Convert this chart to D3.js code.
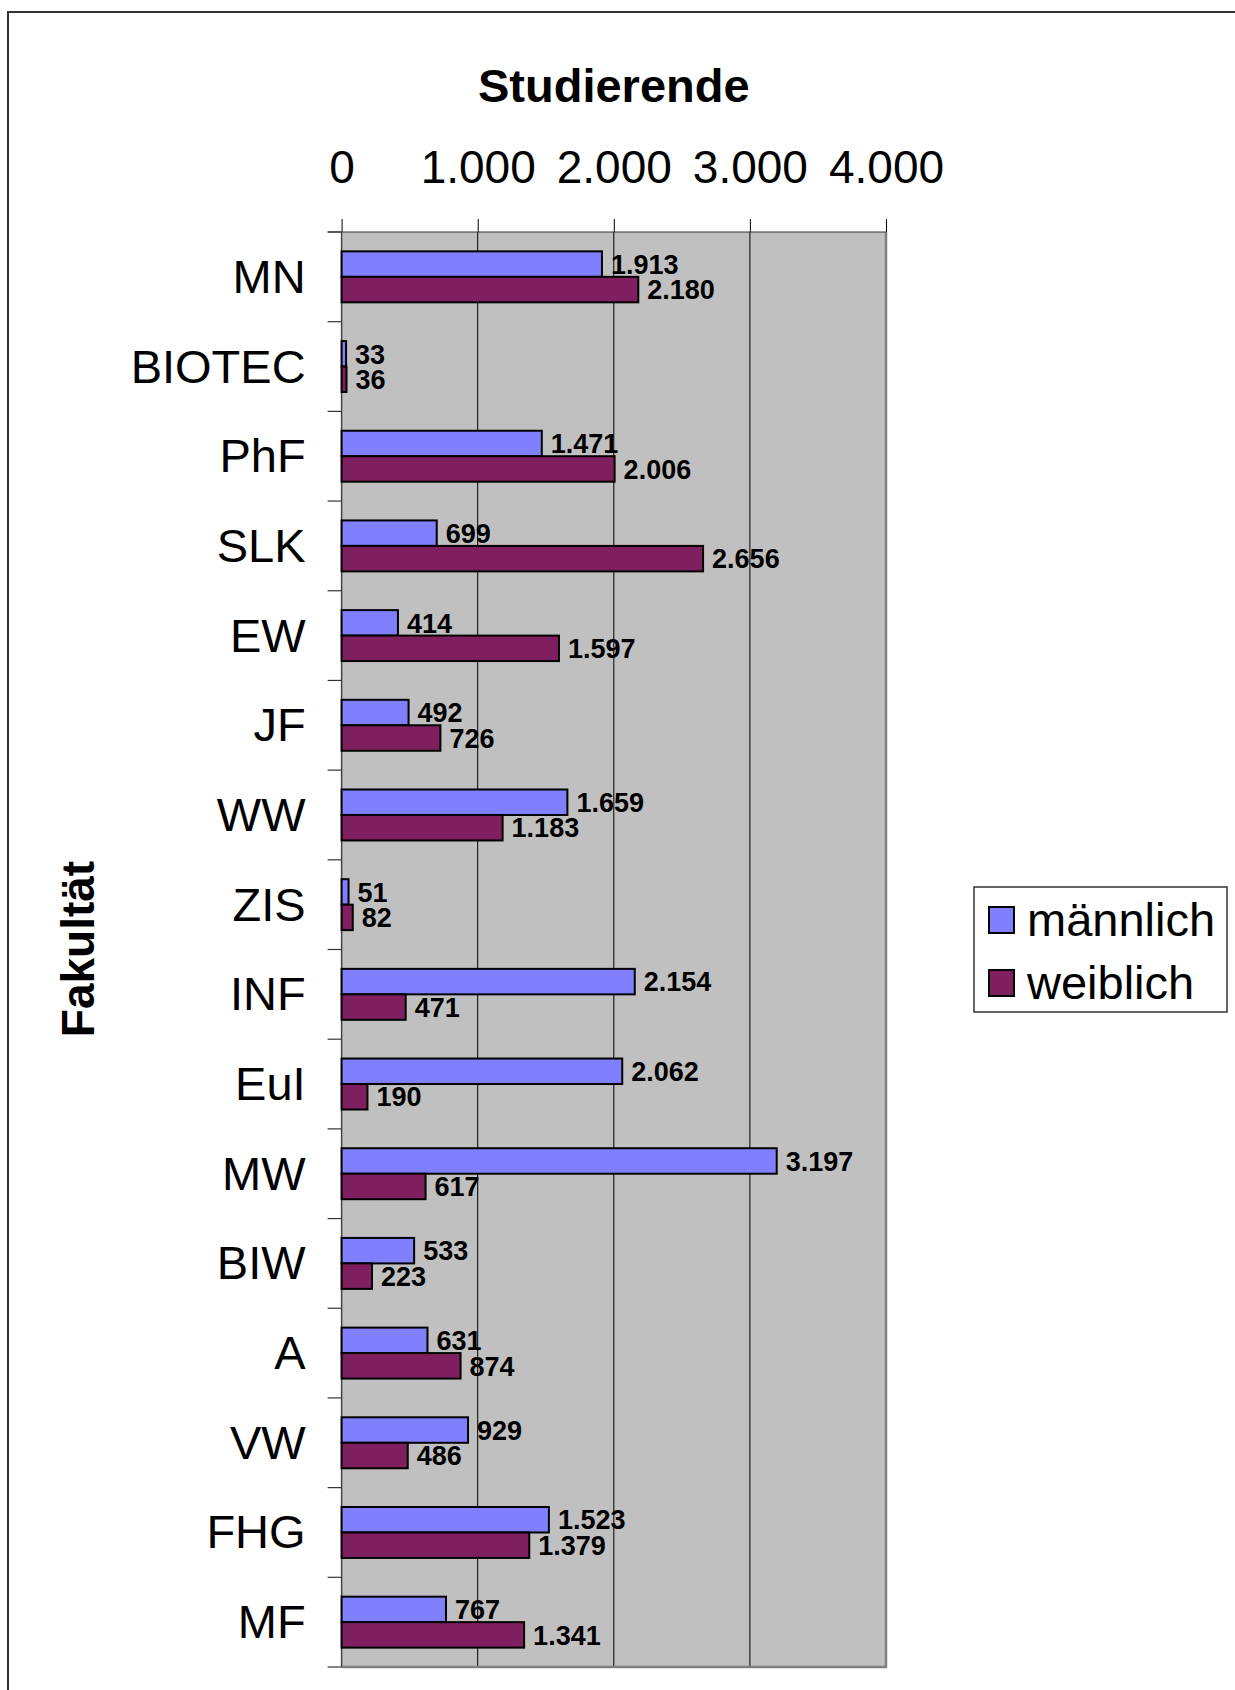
<!DOCTYPE html>
<html>
<head>
<meta charset="utf-8">
<script src="https://cdn.jsdelivr.net/npm/d3@7"></script>
<style>
  body { margin: 0; background: #fff; }
  text { font-family: "Liberation Sans", Arial, sans-serif; }
</style>
</head>
<body>
<div class="container"></div>
<script>
const faculties = ['MN', 'BIOTEC', 'PhF', 'SLK', 'EW', 'JF', 'WW', 'ZIS', 'INF', 'EuI', 'MW', 'BIW', 'A', 'VW', 'FHG', 'MF'];
const male   = [1913, 33, 1471, 699, 414, 492, 1659, 51, 2154, 2062, 3197, 533, 631, 929, 1523, 767];
const female = [2180, 36, 2006, 2656, 1597, 726, 1183, 82, 471, 190, 617, 223, 874, 486, 1379, 1341];
const seriesNames = ['männlich', 'weiblich'];
const seriesColors = ['#8080ff', '#801f5f'];
const xTicks = [0, 1000, 2000, 3000, 4000];

const width = 1235;
const height = 1690;

const deFormat = d3.formatLocale({decimal: ',', thousands: '.', grouping: [3], currency: ['', ' €']}).format(',');

const rows = faculties.map((f, i) => ({name: f, values: [male[i], female[i]]}));

const svg = d3.select('.container')
  .append('svg')
  .attr('width', width)
  .attr('height', height);

// outer frame (right/bottom edges lie outside the picture)
svg.append('rect')
  .attr('x', 8).attr('y', 12)
  .attr('width', width + 20).attr('height', height + 20)
  .attr('fill', 'none')
  .attr('stroke', '#333')
  .attr('stroke-width', 2);

const plotLeft = 341.6, plotRight = 886, plotTop = 232, plotBottom = 1667;

const x = d3.scaleLinear().domain([0, 4000]).range([plotLeft, plotRight]);
const y = d3.scaleBand().domain(faculties).range([plotTop, plotBottom]);
const ySub = d3.scaleBand().domain([0, 1]).range([0, y.bandwidth()]).paddingOuter(0.76);

// plot area
svg.append('rect')
  .attr('x', plotLeft).attr('y', plotTop)
  .attr('width', plotRight - plotLeft).attr('height', plotBottom - plotTop)
  .attr('fill', '#c0c0c0');

// gridlines
svg.append('g')
  .selectAll('line')
  .data(xTicks.slice(1, -1))
  .join('line')
  .attr('x1', d => x(d)).attr('x2', d => x(d))
  .attr('y1', plotTop).attr('y2', plotBottom)
  .attr('stroke', '#000')
  .attr('stroke-width', 1);

// plot border right / bottom
svg.append('path')
  .attr('d', `M${plotRight},${plotTop}V${plotBottom}H${plotLeft}`)
  .attr('fill', 'none')
  .attr('stroke', '#808080')
  .attr('stroke-width', 2.5);

// top value axis
const xAxis = svg.append('g')
  .attr('transform', `translate(0,${plotTop})`)
  .call(d3.axisTop(x).tickValues(xTicks).tickSize(13).tickPadding(36).tickFormat(deFormat));
xAxis.select('.domain').remove();
xAxis.selectAll('line').attr('stroke', '#000');
xAxis.selectAll('text')
  .attr('font-size', 46)
  .attr('font-family', '"Liberation Sans", Arial, sans-serif')
  .attr('fill', '#000');
svg.append('line')
  .attr('x1', plotLeft - 14).attr('x2', plotRight)
  .attr('y1', plotTop).attr('y2', plotTop)
  .attr('stroke', '#333').attr('stroke-width', 1.2);

// left category axis
const yAxis = svg.append('g')
  .attr('transform', `translate(${plotLeft},0)`)
  .call(d3.axisLeft(y).tickSize(0).tickPadding(36));
yAxis.select('.domain').remove();
yAxis.selectAll('text')
  .attr('font-size', 47)
  .attr('font-family', '"Liberation Sans", Arial, sans-serif')
  .attr('dy', '0.34em')
  .attr('fill', '#000');

// category tick marks (at band boundaries)
svg.append('g')
  .selectAll('line')
  .data(faculties.map(f => y(f)).concat([plotBottom]))
  .join('line')
  .attr('x1', plotLeft - 14).attr('x2', plotLeft)
  .attr('y1', d => d).attr('y2', d => d)
  .attr('stroke', '#333').attr('stroke-width', 1.2);

svg.append('line')
  .attr('x1', plotLeft).attr('x2', plotLeft)
  .attr('y1', plotTop).attr('y2', plotBottom)
  .attr('stroke', '#444').attr('stroke-width', 1.5);

// bars
const groups = svg.append('g')
  .selectAll('g')
  .data(rows)
  .join('g')
  .attr('transform', d => `translate(0,${y(d.name)})`);

groups.selectAll('rect')
  .data(d => d.values)
  .join('rect')
  .attr('x', x(0))
  .attr('y', (d, i) => ySub(i))
  .attr('width', d => x(d) - x(0))
  .attr('height', ySub.bandwidth())
  .attr('fill', (d, i) => seriesColors[i])
  .attr('stroke', '#000')
  .attr('stroke-width', 2);

groups.selectAll('text')
  .data(d => d.values)
  .join('text')
  .attr('x', d => x(d) + 9)
  .attr('y', (d, i) => ySub(i) + ySub.bandwidth() / 2)
  .attr('dy', '0.36em')
  .attr('font-size', 27)
  .attr('font-weight', 'bold')
  .text(d => deFormat(d));

// title
svg.append('text')
  .attr('x', (plotLeft + plotRight) / 2)
  .attr('y', 102)
  .attr('text-anchor', 'middle')
  .attr('font-size', 47)
  .attr('font-weight', 'bold')
  .text('Studierende');

// y-axis title
svg.append('text')
  .attr('transform', 'translate(94,949) rotate(-90)')
  .attr('text-anchor', 'middle')
  .attr('font-size', 46)
  .attr('font-weight', 'bold')
  .text('Fakultät');

// legend
const legend = svg.append('g');
legend.append('rect')
  .attr('x', 974).attr('y', 887)
  .attr('width', 253).attr('height', 125)
  .attr('fill', '#fff')
  .attr('stroke', '#333')
  .attr('stroke-width', 1.5);

const legendY = [920, 983];
seriesNames.forEach((name, i) => {
  legend.append('rect')
    .attr('x', 989).attr('y', legendY[i] - 13)
    .attr('width', 25).attr('height', 26)
    .attr('fill', seriesColors[i])
    .attr('stroke', '#000')
    .attr('stroke-width', 2);
  legend.append('text')
    .attr('x', 1027)
    .attr('y', legendY[i])
    .attr('dy', '0.34em')
    .attr('font-size', 47)
    .text(name);
});
</script>
</body>
</html>
